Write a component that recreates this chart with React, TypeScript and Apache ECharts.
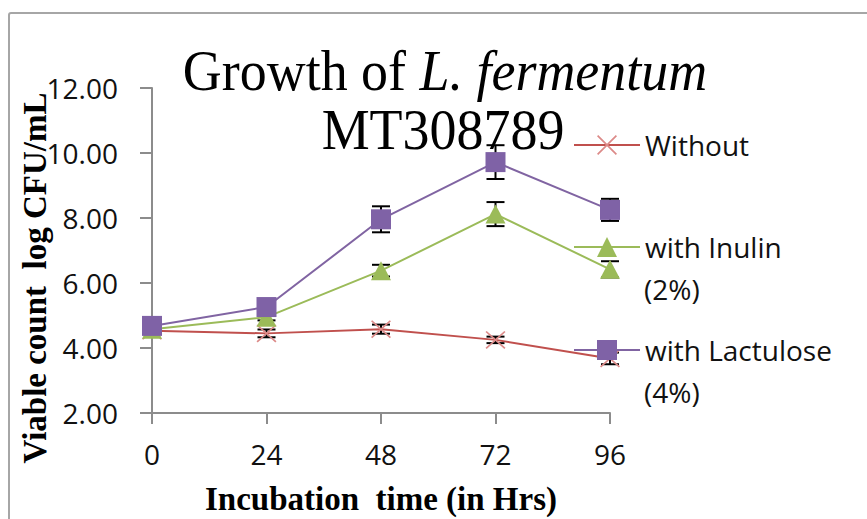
import React, { useEffect, useRef } from 'react';
import * as echarts from 'echarts';

const hours = [0, 24, 48, 72, 96];
const seriesNames = ['Without', 'with Inulin', 'with Lactulose'];
const legendSecondLines = ['', '(2%)', '(4%)'];
const withoutVals = [4.53, 4.45, 4.58, 4.25, 3.68];
const withoutErr = [0.08, 0.12, 0.14, 0.1, 0.18];
const inulinVals = [4.58, 4.95, 6.38, 8.12, 6.42];
const inulinErr = [0.08, 0.1, 0.18, 0.37, 0.25];
const lactuloseVals = [4.68, 5.26, 7.96, 9.72, 8.25];
const lactuloseErr = [0.08, 0.1, 0.4, 0.52, 0.34];

const titleLine1 = ['Growth of ', 'L. fermentum'];
const titleLine2 = 'MT308789';
const xTitle = 'Incubation  time (in Hrs)';
const yTitle = 'Viable count  log CFU/mL';

const lineColors = ['#C0504D', '#9BBB59', '#8064A2'];
const markerColors = ['#DC8A88', '#9BBB59', '#7F62A6'];
const X_PATH =
  'path://M0.6,0 L5,4.4 L9.4,0 L10,0.6 L5.6,5 L10,9.4 L9.4,10 L5,5.6 L0.6,10 L0,9.4 L4.4,5 L0,0.6 Z';
const symbols = [X_PATH, 'triangle', 'rect'];
const symbolSizes: any[] = [[20, 18], [20, 19], 20];

const valsList = [withoutVals, inulinVals, lactuloseVals];
const errList = [withoutErr, inulinErr, lactuloseErr];

const SANS = '"Open Sans", "Noto Sans", sans-serif';
const SERIF = '"Liberation Serif", "Times New Roman", serif';

export default function App() {
  const ref = useRef<HTMLDivElement>(null);
  useEffect(() => {
    if (!ref.current) return;
    const chart = echarts.init(ref.current, undefined, { renderer: 'svg' });

    const lineSeries = seriesNames.map((name, si) => ({
      type: 'line',
      name,
      data: hours.map((h, i) => [h, valsList[si][i]]),
      symbol: symbols[si],
      symbolSize: symbolSizes[si],
      showSymbol: true,
      lineStyle: { color: lineColors[si], width: 2 },
      itemStyle: { color: markerColors[si] },
      z: 3 + si,
      emphasis: { disabled: true },
    }));

    const errSeries = seriesNames.map((name, si) => ({
      type: 'custom',
      name: name + ' error',
      data: hours.map((h, i) => [h, valsList[si][i] - errList[si][i], valsList[si][i] + errList[si][i]]),
      encode: { x: 0, y: [1, 2] },
      silent: true,
      z: 2,
      renderItem: (params: any, api: any) => {
        const x = api.value(0);
        const lo = api.coord([x, api.value(1)]);
        const hi = api.coord([x, api.value(2)]);
        const hw = 9;
        const st = { stroke: '#000', lineWidth: 2 };
        return {
          type: 'group',
          children: [
            { type: 'line', shape: { x1: lo[0], y1: lo[1], x2: hi[0], y2: hi[1] }, style: st },
            { type: 'line', shape: { x1: lo[0] - hw, y1: lo[1], x2: lo[0] + hw, y2: lo[1] }, style: st },
            { type: 'line', shape: { x1: hi[0] - hw, y1: hi[1], x2: hi[0] + hw, y2: hi[1] }, style: st },
          ],
        };
      },
    }));

    const legendCenters = [145, 247, 350];
    const legends = seriesNames.map((name, si) => ({
      data: [name],
      left: 573,
      top: legendCenters[si] - 21,
      orient: 'vertical',
      padding: 0,
      itemWidth: 66,
      itemHeight: 25,
      selectedMode: false,
      textStyle: {
        fontFamily: SANS,
        fontSize: 28,
        lineHeight: 42,
        color: '#111',
      },
    }));

    const legendExtra = legendSecondLines
      .map((t, si) => ({ t, si }))
      .filter((d) => d.t)
      .map((d) => ({
        type: 'text',
        x: 644,
        y: legendCenters[d.si] + 42,
        style: {
          text: d.t,
          align: 'left',
          verticalAlign: 'middle',
          font: `28px ${SANS}`,
          fill: '#111',
        },
      }));

    chart.setOption({
      animation: false,
      backgroundColor: '#fff',
      grid: { left: 152, top: 88, width: 458, height: 325, containLabel: false },
      legend: legends,
      xAxis: {
        type: 'value',
        min: 0,
        max: 96,
        interval: 24,
        splitLine: { show: false },
        axisLine: { show: true, lineStyle: { color: '#8C8C8C', width: 2 } },
        axisTick: { show: true, length: 11, lineStyle: { color: '#8C8C8C', width: 2 } },
        axisLabel: { fontFamily: SANS, fontSize: 28, lineHeight: 28, color: '#111', margin: 27 },
      },
      yAxis: {
        type: 'value',
        min: 2,
        max: 12,
        interval: 2,
        splitLine: { show: false },
        axisLine: { show: true, lineStyle: { color: '#8C8C8C', width: 2 } },
        axisTick: { show: true, length: 12, lineStyle: { color: '#8C8C8C', width: 2 } },
        axisLabel: {
          fontFamily: SANS,
          fontSize: 28,
          color: '#111',
          margin: 34,
          formatter: (v: number) => v.toFixed(2),
        },
      },
      graphic: [
        {
          type: 'rect',
          shape: { x: 9, y: 13, width: 900, height: 600, r: 2 },
          style: { fill: 'none', stroke: '#A6A6A6', lineWidth: 2 },
          z: -10,
          silent: true,
        },
        {
          type: 'text',
          x: 445,
          y: 70,
          scaleX: 0.93,
          style: {
            text: `{a|${titleLine1[0]}}{b|${titleLine1[1]}}`,
            align: 'center',
            verticalAlign: 'middle',
            rich: {
              a: { fontFamily: SERIF, fontSize: 58, color: '#000', align: 'center' },
              b: { fontFamily: SERIF, fontSize: 58, fontStyle: 'italic', color: '#000', align: 'center' },
            },
          },
          z: 10,
        },
        {
          type: 'text',
          x: 443,
          y: 129,
          scaleX: 0.93,
          style: {
            text: titleLine2,
            align: 'center',
            verticalAlign: 'middle',
            font: `58px ${SERIF}`,
            fill: '#000',
          },
          z: 10,
        },
        {
          type: 'text',
          x: 381,
          y: 499,
          style: {
            text: xTitle,
            align: 'center',
            verticalAlign: 'middle',
            font: `bold 33px ${SERIF}`,
            fill: '#000',
          },
        },
        {
          type: 'text',
          x: 35,
          y: 278,
          rotation: Math.PI / 2,
          style: {
            text: yTitle,
            align: 'center',
            verticalAlign: 'middle',
            font: `bold 33px ${SERIF}`,
            fill: '#000',
          },
        },
        ...legendExtra,
      ],
      series: [...errSeries, ...lineSeries],
    });
    return () => chart.dispose();
  }, []);
  return (
    <div
      ref={ref}
      style={{ position: 'fixed', left: 0, top: 0, width: 867, height: 519, background: '#fff' }}
    />
  );
}
